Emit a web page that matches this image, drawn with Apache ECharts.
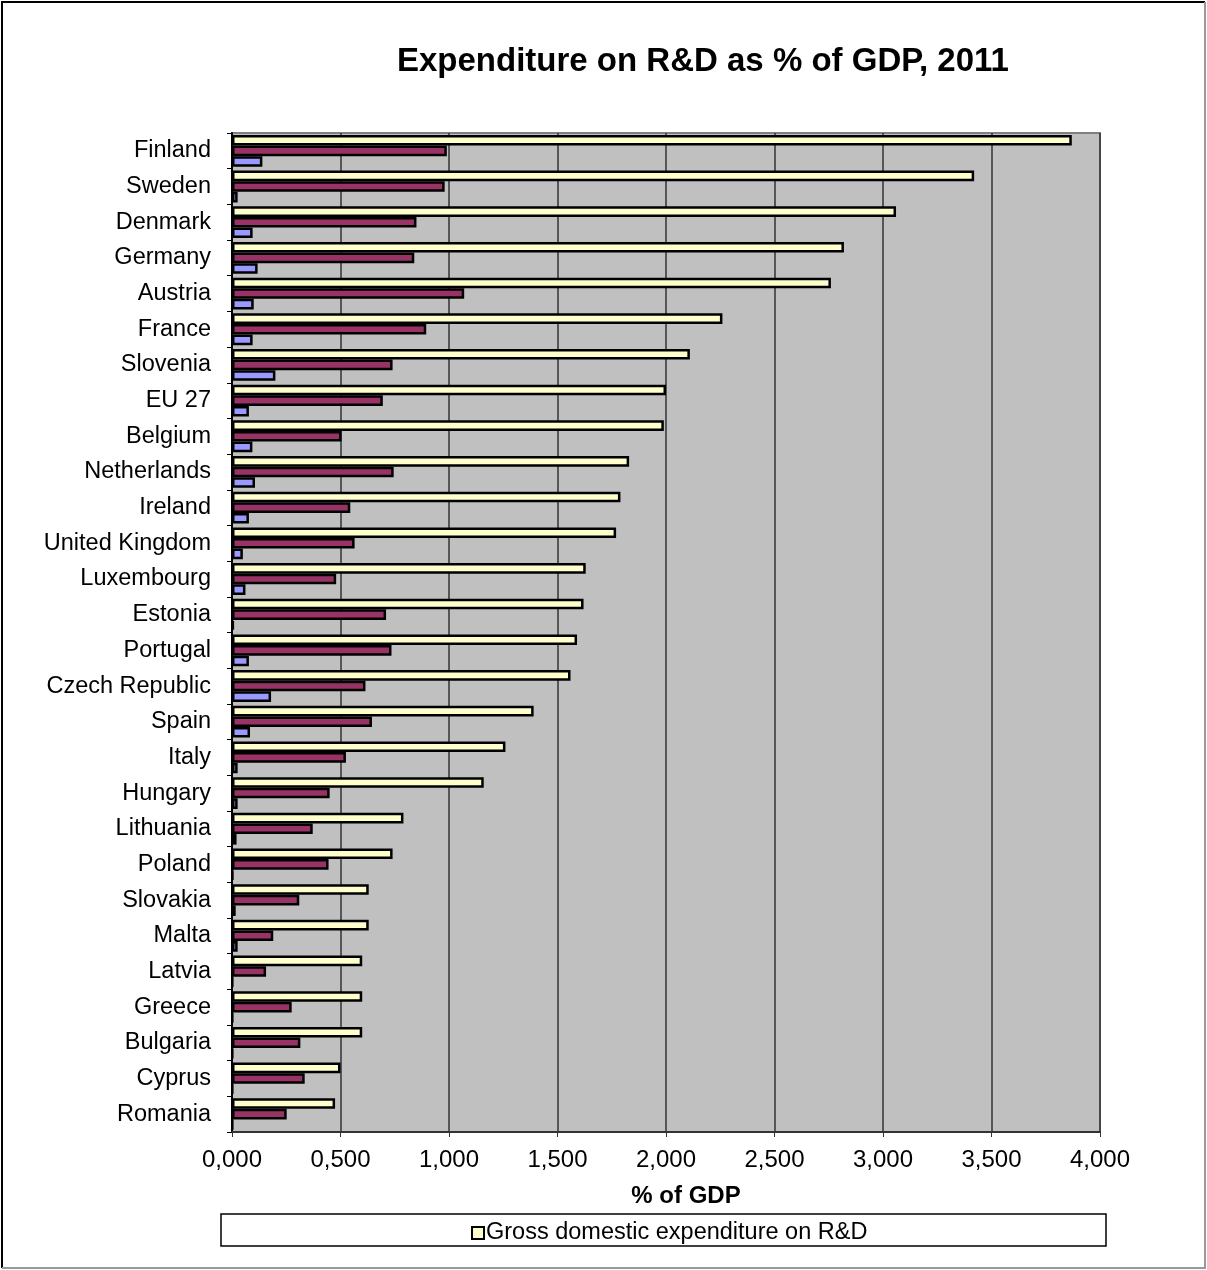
<!DOCTYPE html>
<html>
<head>
<meta charset="utf-8">
<title>Expenditure on R&amp;D as % of GDP, 2011</title>
<script src="https://cdn.jsdelivr.net/npm/echarts@6/dist/echarts.min.js"></script>
<style>
  html, body { margin: 0; padding: 0; background: #fff; }
  #chart { width: 1207px; height: 1270px; }
</style>
</head>
<body>
<div id="chart"></div>
<script>
// Countries, top to bottom
const categories = ['Finland', 'Sweden', 'Denmark', 'Germany', 'Austria', 'France', 'Slovenia', 'EU 27',
  'Belgium', 'Netherlands', 'Ireland', 'United Kingdom', 'Luxembourg', 'Estonia', 'Portugal',
  'Czech Republic', 'Spain', 'Italy', 'Hungary', 'Lithuania', 'Poland', 'Slovakia', 'Malta',
  'Latvia', 'Greece', 'Bulgaria', 'Cyprus', 'Romania'];

// Gross domestic expenditure on R&D, % of GDP
const grossValues = [3.87, 3.42, 3.06, 2.82, 2.76, 2.26, 2.11, 2.00, 1.99, 1.83, 1.79, 1.77, 1.63, 1.62,
  1.59, 1.56, 1.39, 1.26, 1.16, 0.79, 0.74, 0.63, 0.63, 0.60, 0.60, 0.60, 0.50, 0.475];

// Second breakdown series, % of GDP
const seriesBValues = [0.99, 0.98, 0.85, 0.84, 1.07, 0.895, 0.74, 0.695, 0.505, 0.745, 0.545, 0.565,
  0.48, 0.71, 0.735, 0.615, 0.645, 0.525, 0.45, 0.372, 0.445, 0.31, 0.19, 0.157, 0.275, 0.315, 0.335, 0.252];

// Third breakdown series, % of GDP
const seriesCValues = [0.14, 0.026, 0.095, 0.118, 0.1, 0.095, 0.2, 0.078, 0.094, 0.106, 0.078, 0.05,
  0.062, 0.008, 0.078, 0.18, 0.083, 0.026, 0.026, 0.021, 0.004, 0.017, 0.026, 0.003, 0.003, 0.003, 0.003, 0.003];

// x axis ticks
const xMin = 0, xMax = 4, xStep = 0.5;

const fmt = v => v.toFixed(3).replace('.', ',');
const FONT = '"Liberation Sans", Arial, sans-serif';

const chart = echarts.init(document.getElementById('chart'), null, { renderer: 'canvas' });

function barSeries(name, data, color) {
  return {
    name: name, type: 'bar', data: data,
    barWidth: 10.6, barGap: '0%',
    itemStyle: { color: color, borderColor: '#000', borderWidth: 2.5 }
  };
}

chart.setOption({
  animation: false,
  backgroundColor: '#fff',
  textStyle: { fontFamily: FONT, color: '#000' },
  title: {
    text: 'Expenditure on R&D as % of GDP, 2011',
    left: 392,
    top: 40,
    textStyle: { fontFamily: FONT, fontSize: 33, fontWeight: 'bold', color: '#000' }
  },
  grid: {
    left: 232, right: 107, top: 133, bottom: 138,
    show: true, backgroundColor: '#C0C0C0', borderColor: '#808080', borderWidth: 2
  },
  legend: {
    data: [{ name: 'Gross domestic expenditure on R&D', icon: 'rect' }],
    left: 466,
    top: 1216,
    itemWidth: 12, itemHeight: 12, itemGap: 4,
    textStyle: { fontFamily: FONT, fontSize: 23.5, color: '#000', padding: [0, 0, 0, -3] }
  },
  xAxis: {
    type: 'value',
    min: xMin, max: xMax, interval: xStep,
    name: '% of GDP',
    nameLocation: 'middle',
    nameGap: 52,
    nameTextStyle: { fontFamily: FONT, fontSize: 24, fontWeight: 'bold', color: '#000', padding: [0, 0, 0, 40] },
    axisLine: { show: true, lineStyle: { color: '#333', width: 2 } },
    axisTick: { show: true, length: 5, lineStyle: { color: '#333' } },
    axisLabel: { formatter: fmt, margin: 16, fontSize: 24, fontFamily: FONT, color: '#000' },
    splitLine: { show: true, lineStyle: { color: '#333', width: 1.5 } }
  },
  yAxis: {
    type: 'category',
    data: categories,
    inverse: true,
    axisLine: { show: true, lineStyle: { color: '#000', width: 2 } },
    axisTick: { show: true, length: 5, lineStyle: { color: '#000' } },
    axisLabel: { margin: 21, fontSize: 23.5, fontFamily: FONT, color: '#000' },
    splitLine: { show: false }
  },
  series: [
    barSeries('Gross domestic expenditure on R&D', grossValues, '#FFFFCC'),
    barSeries('Series B', seriesBValues, '#993366'),
    barSeries('Series C', seriesCValues, '#9999FF')
  ],
  graphic: [
    // legend frame
    { type: 'rect', shape: { x: 221, y: 1214, width: 885, height: 32 },
      style: { fill: null, stroke: '#000', lineWidth: 1.5 }, z: -1 },
    // outer chart frame
    { type: 'polyline', shape: { points: [[2, 1268], [2, 2], [1205, 2]] },
      style: { fill: null, stroke: '#000', lineWidth: 2 } },
    { type: 'polyline', shape: { points: [[1205, 2], [1205, 1268], [2, 1268]] },
      style: { fill: null, stroke: '#999', lineWidth: 2 } }
  ]
});
</script>
</body>
</html>
